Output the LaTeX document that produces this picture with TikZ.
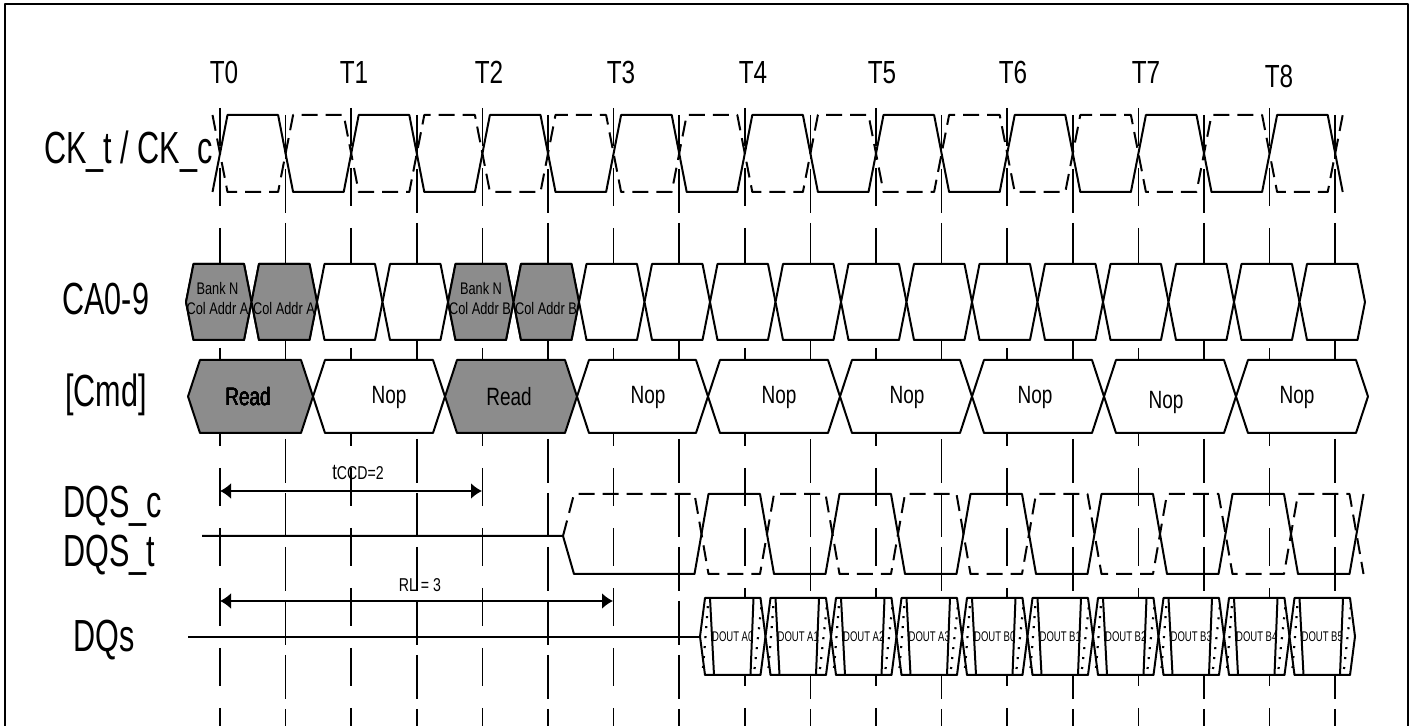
\documentclass[tikz,border=0pt]{standalone}
\usepackage{fontspec}
\setmainfont{Liberation Sans}
\newfontfamily\lblfont[FakeStretch=0.68]{Liberation Sans}
\newfontfamily\cellfont[FakeStretch=0.76]{Liberation Sans}
\usetikzlibrary{arrows.meta}
\definecolor{cmdgray}{RGB}{140,140,140}
\def\per{131.2}
\newcommand{\hexbox}[6]{\draw[#6] (#1,{(#3+#4)/2}) -- ({#1+#5},#3) -- ({#2-#5},#3) -- (#2,{(#3+#4)/2}) -- ({#2-#5},#4) -- ({#1+#5},#4) -- cycle;}

\begin{document}
\begin{tikzpicture}[x=0.5pt, y=-0.5pt, line join=round,
    sig/.style={line width=1pt},
    sigc/.style={line width=1pt, dash pattern=on 8pt off 4pt},
    tline/.style={line width=0.8pt, dash pattern=on 19pt off 11pt},
    hline/.style={line width=0.8pt, dash pattern=on 22pt off 5pt},
    wbox/.style={line width=1pt, fill=white},
    gbox/.style={line width=1pt, fill=cmdgray},
    dimarrow/.style={line width=1pt, {Latex[length=5.5pt,width=8pt]}-{Latex[length=5.5pt,width=8pt]}},
    siglabel/.style={anchor=base west, inner sep=0pt, font=\lblfont\fontsize{22.5pt}{24pt}\selectfont},
    tlabel/.style={anchor=base, inner sep=0pt, font=\cellfont\fontsize{16pt}{18pt}\selectfont},
    cmdtext/.style={inner sep=0pt, font=\cellfont\fontsize{12.5pt}{14pt}\selectfont},
    catext/.style={inner sep=0pt, font=\cellfont\fontsize{8.4pt}{10pt}\selectfont},
    dqtext/.style={inner sep=0pt, font=\lblfont\fontsize{7pt}{8pt}\selectfont},
    dimtext/.style={inner sep=0pt, font=\cellfont\fontsize{9.3pt}{11pt}\selectfont}]
    \useasboundingbox (0,0) rectangle (1414,726);
    \clip (0,0) rectangle (1414,726);
    \draw[line width=1pt] (5,4) rectangle (1408,760);

    \foreach \k in {0,...,8} {
        \draw[tline] ({220+\per*\k},108) -- ({220+\per*\k},726);
        \draw[hline] ({285.6+\per*\k},115) -- ({285.6+\per*\k},726);
    }
    \foreach \k/\lx/\ly in {0/224/84, 1/354/84, 2/489/84, 3/621/84, 4/753/84, 5/882/84, 6/1013/84, 7/1146/84, 8/1279/88}
        \node (T\k) [tlabel] at (\lx,\ly) {T\k};

    \node (ck) [siglabel, anchor=base east] at (213,164) {CK\_t / CK\_c};
    \node (ca) [siglabel] at (62,315) {CA0-9};
    \node (cmd) [siglabel] at (65,407) {[Cmd]};
    \node (dqsc) [siglabel] at (63,518) {DQS\_c};
    \node (dqst) [siglabel] at (63,567) {DQS\_t};
    \node (dq) [siglabel] at (73,652) {DQs};

    \draw[sig] (212.5,192) \foreach \k in {0,...,8} { -- ({212.5+\per*\k},192) -- ({227.5+\per*\k},115) -- ({278.1+\per*\k},115) -- ({293.1+\per*\k},192) };
    \draw[sigc] (212.5,115) \foreach \k in {0,...,8} { -- ({212.5+\per*\k},115) -- ({227.5+\per*\k},192) -- ({278.1+\per*\k},192) -- ({293.1+\per*\k},115) };

    \foreach \k in {0,...,17} {
        \pgfmathsetmacro\xa{186+65.5*\k}
        \pgfmathsetmacro\xb{\xa+65.5}
        \hexbox{\xa}{\xb}{264}{340}{7.5}{wbox}
    }
    \foreach \k in {0,1,4,5} {
        \pgfmathsetmacro\xa{186+65.5*\k}
        \pgfmathsetmacro\xb{\xa+65.5}
        \hexbox{\xa}{\xb}{264}{340}{7.5}{gbox}
    }
    \node (bankA) [catext] at (217.5,289) {Bank N};
    \node (colA) [catext] at (217.5,308) {Col Addr A};
    \node (colA2) [catext] at (284,308) {Col Addr A};
    \node (bankB) [catext] at (481,289) {Bank N};
    \node (colB) [catext] at (480,308) {Col Addr B};
    \node (colB2) [catext] at (546,308) {Col Addr B};

    \hexbox{188}{313}{360}{433}{12}{gbox}
    \hexbox{445}{577}{360}{433}{12}{gbox}
    \foreach \xa/\xb in {313/445, 577/708, 708/840, 840/972, 972/1104, 1104/1236, 1236/1368}
        \hexbox{\xa}{\xb}{360}{433}{12}{wbox}
    \node (rd0) [cmdtext] at (248,397) {Read};
    \node (rd2) [cmdtext] at (509,397) {Read};
    \foreach \k/\lx/\ly in {1/389/397, 3/648/397, 4/779/397, 5/907/397, 6/1035/397, 7/1166/402, 8/1297/397}
        \node (nop\k) [cmdtext] at (\lx,\ly) {Nop};

    \coordinate (ccdA) at (220,491);
    \coordinate (ccdB) at (482,491);
    \draw[dimarrow] (ccdA) -- (ccdB);
    \node (ccd) [dimtext] at (358,472) {{\fontsize{11pt}{12pt}\selectfont t}CCD=2};
    \coordinate (rlA) at (220,601);
    \coordinate (rlB) at (613,601);
    \draw[dimarrow] (rlA) -- (rlB);
    \node (rl) [dimtext] at (420,585) {RL = 3};

    \coordinate (dqs0) at (202,536);
    \draw[sig] (dqs0) -- (563,536) -- (574,574) \foreach \j in {0,2,4,6,8} { -- ({694.5+65.5*\j},574) -- ({708.5+65.5*\j},494) -- ({760+65.5*\j},494) -- ({774+65.5*\j},574) } -- (1349.5,574) -- (1363.5,494);
    \draw[sigc] (563,536) -- (574,494) \foreach \j in {0,2,4,6,8} { -- ({694.5+65.5*\j},494) -- ({708.5+65.5*\j},574) -- ({760+65.5*\j},574) -- ({774+65.5*\j},494) } -- (1349.5,494) -- (1363.5,574);

    \coordinate (dq0) at (188,637);
    \draw[sig] (dq0) -- (700,637);
    \foreach \j/\nm in {0/A0,1/A1,2/A2,3/A3,4/B0,5/B1,6/B2,7/B3,8/B4,9/B5} {
        \pgfmathsetmacro\xa{700+65.5*\j}
        \pgfmathsetmacro\xb{\xa+65.5}
        \hexbox{\xa}{\xb}{598}{675}{5}{wbox}
        \draw[sig] ({\xa+10},598) -- ({\xa+14},675);
        \draw[sig] ({\xb-12},598) -- ({\xb-15},675);
        \draw[line width=1.1pt, dash pattern=on 1pt off 4pt] ({\xa+3},668) -- ({\xa+8},604);
        \draw[line width=1.1pt, dash pattern=on 1pt off 4pt] ({\xb-11},669) -- ({\xb-4},605);
        \node (d\nm) [dqtext] at ({(\xa+\xb)/2},637) {DOUT \nm};
    }
\end{tikzpicture}
\end{document}
